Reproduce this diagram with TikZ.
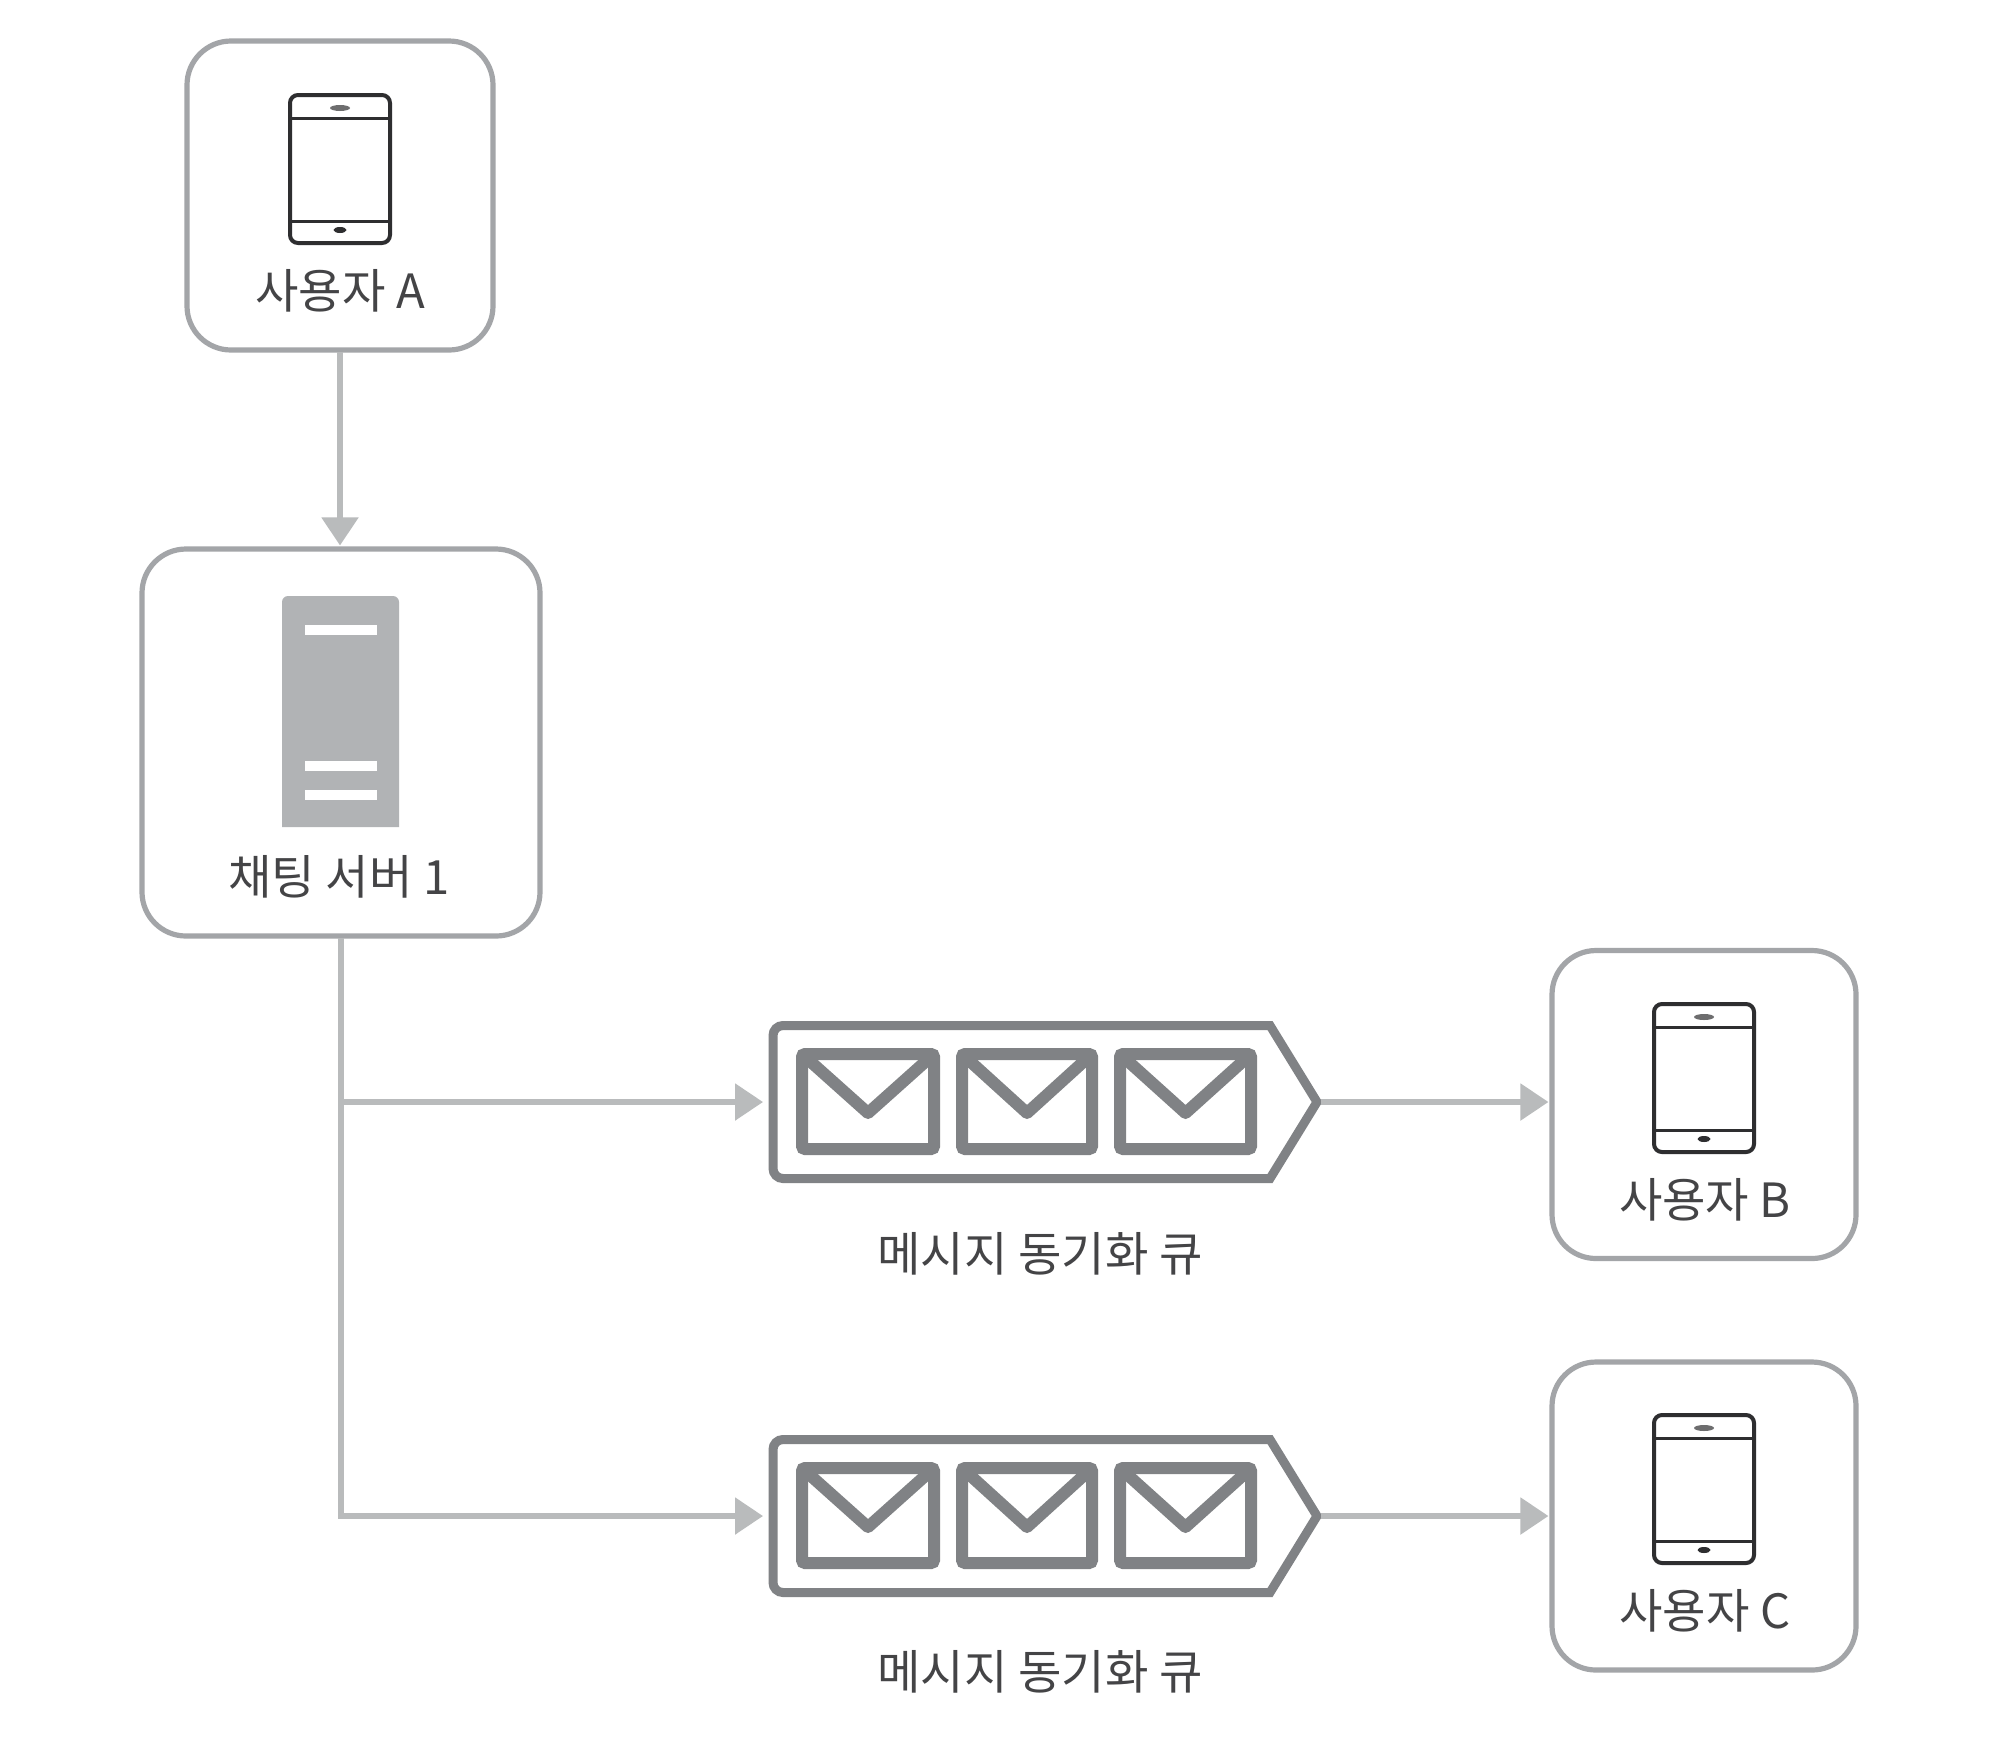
\documentclass[tikz,border=0pt]{standalone}
\usepackage{fontspec}
\setmainfont{Noto Sans CJK KR}
\usetikzlibrary{arrows.meta}
\tikzset{
  x=0.5pt,y=-0.5pt,
  card/.style={draw=cardgray,line width=2.6pt,rounded corners=22pt,inner sep=0pt,outer sep=1pt,fill=white},
  label/.style={text=labelcol,font=\fontsize{23.6pt}{27pt}\selectfont,inner sep=0pt},
  link/.style={draw=linkgray,line width=2.7pt,-{Triangle[length=14pt,width=18pt]},shorten >=0.8pt},
  qlink/.style={link,shorten >=3pt},
  trunk/.style={draw=linkgray,line width=2.7pt},
  qbox/.style={inner sep=0pt,outer sep=0pt,minimum width=276pt,minimum height=80pt},
  qline/.style={draw=qgray,line width=4.5pt,line join=miter},
  envl/.style={draw=qgray,line width=6pt,rounded corners=1.5pt},
  vee/.style={draw=qgray,line width=6pt,line join=round},
  phone/.style={draw=phonecol,line width=2pt,rounded corners=4pt,fill=white},
  pline/.style={draw=phonecol,line width=1.5pt},
}
\definecolor{cardgray}{HTML}{A3A5A8}
\definecolor{linkgray}{HTML}{B9BBBC}
\definecolor{qgray}{HTML}{808285}
\definecolor{phonecol}{HTML}{2E2E30}
\definecolor{labelcol}{HTML}{444446}
\definecolor{servergray}{HTML}{B1B3B5}
% #1 centre x, #2 top y of phone
\newcommand{\phoneicon}[2]{%
  \draw[phone] (#1-50,#2) rectangle (#1+50,#2+148);
  \draw[pline] (#1-50,#2+23) -- (#1+50,#2+23);
  \draw[pline] (#1-50,#2+126) -- (#1+50,#2+126);
  \fill[phonecol!70] (#1,#2+13) ellipse [x radius=10,y radius=3];
  \fill[phonecol] (#1,#2+135) ellipse [x radius=6.5,y radius=3];
}
% #1 left x, #2 right x, #3 centre y
\newcommand{\envicon}[3]{%
  \draw[envl] (#1,#3-48) rectangle (#2,#3+47);
  \draw[vee] (#1,#3-48) -- ({(#1+#2)/2},#3+11) -- (#2,#3-48);
}
% #1 centre y
\newcommand{\queueicon}[1]{%
  \draw[qline] (783,#1-76.5) -- (1270,#1-76.5) -- (1317,#1) -- (1270,#1+76.5) -- (783,#1+76.5)
     to[out=180,in=-90] (773,#1+66.5) -- (773,#1-66.5) to[out=90,in=180] cycle;
  \envicon{802}{934}{#1}
  \envicon{962}{1092}{#1}
  \envicon{1120}{1251}{#1}
}
\begin{document}
\begin{tikzpicture}
\useasboundingbox (0,0) rectangle (2000,1757);
\fill[white] (0,0) rectangle (2000,1757);

% cards
\node[card,minimum width=153pt,minimum height=154.5pt] (userA) at (340,195.5) {};
\node[card,minimum width=199pt,minimum height=193.5pt] (server) at (341,742.5) {};
\node[card,minimum width=152pt,minimum height=154pt] (userB) at (1704,1104.5) {};
\node[card,minimum width=152pt,minimum height=154pt] (userC) at (1704,1516) {};

% queues
\node[qbox] (q1) at (1045,1102) {};
\node[qbox] (q2) at (1045,1516) {};
\queueicon{1102}
\queueicon{1516}

% phones
\phoneicon{340}{95}
\phoneicon{1704}{1004}
\phoneicon{1704}{1415}

% server icon
\fill[servergray] (282,827) {[rounded corners=3pt] -- (282,596) -- (399,596)} -- (399,827) -- cycle;
\fill[white] (305,625) rectangle (377,635);
\fill[white] (305,761) rectangle (377,771);
\fill[white] (305,790) rectangle (377,800);

% labels
\node[label] (labA) at (340,291) {사용자 A};
\node[label] (labS) at (339,877) {채팅 서버 1};
\node[label] (labB) at (1705,1200) {사용자 B};
\node[label] (labC) at (1705,1611) {사용자 C};
\node[label] (labQ1) at (1040,1254) {메시지 동기화 큐};
\node[label] (labQ2) at (1040,1672) {메시지 동기화 큐};

% connectors
\coordinate (junction) at (server.south |- q1.west);
\draw[link] (userA.south) -- (userA.south |- server.north);
\draw[trunk] (server.south) -- (junction);
\draw[qlink] (junction) -- (q1.west);
\draw[qlink] (server.south) |- (q2.west);
\draw[link] (q1.east) -- (userB.west |- q1.east);
\draw[link] (q2.east) -- (userC.west |- q2.east);
\end{tikzpicture}
\end{document}
